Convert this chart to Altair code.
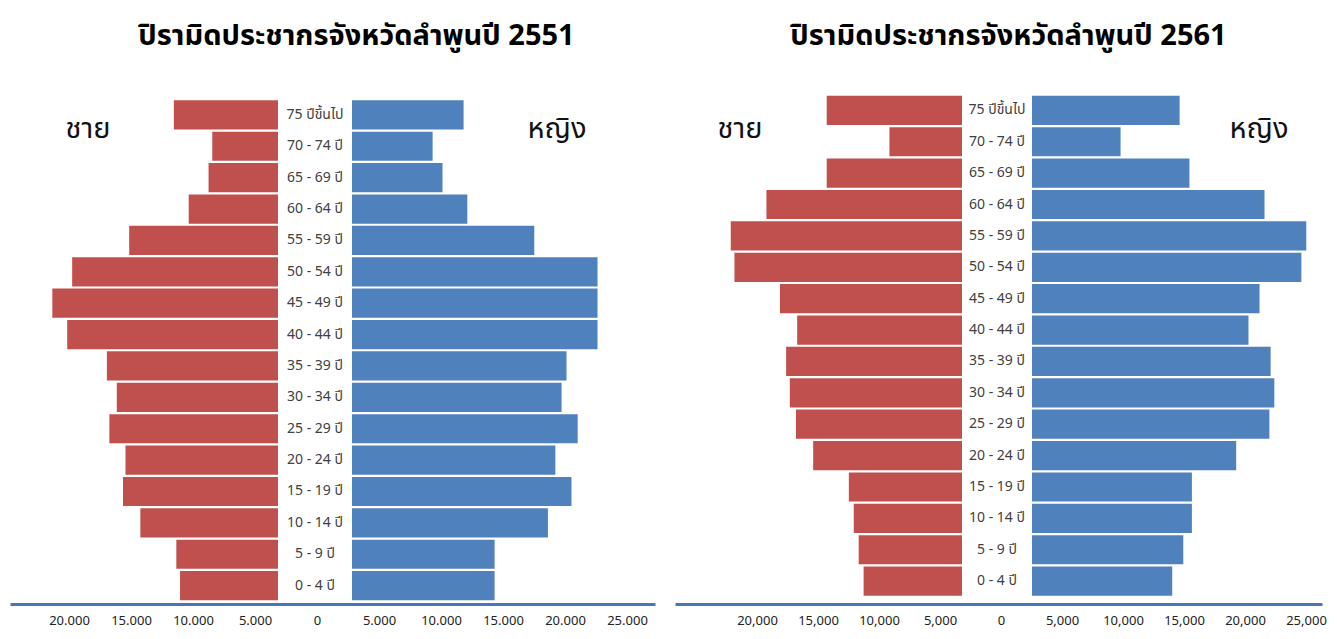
import altair as alt
import pandas as pd

# ---------------- data ----------------
age_groups = ["75 ปีขึ้นไป", "70 - 74 ปี", "65 - 69 ปี", "60 - 64 ปี", "55 - 59 ปี",
              "50 - 54 ปี", "45 - 49 ปี", "40 - 44 ปี", "35 - 39 ปี", "30 - 34 ปี",
              "25 - 29 ปี", "20 - 24 ปี", "15 - 19 ปี", "10 - 14 ปี", "5 - 9 ปี", "0 - 4 ปี"]

male_2551 = [8400, 5300, 5600, 7200, 12000, 16600, 18200, 17000,
             13800, 13000, 13600, 12300, 12500, 11100, 8200, 7900]
female_2551 = [9000, 6500, 7300, 9300, 14700, 19800, 19800, 19800,
               17300, 16900, 18200, 16400, 17700, 15800, 11500, 11500]

male_2561 = [11000, 5900, 11000, 15900, 18800, 18500, 14800, 13400,
             14300, 14000, 13500, 12100, 9200, 8800, 8400, 8000]
female_2561 = [12000, 7200, 12800, 18900, 22300, 21900, 18500, 17600,
               19400, 19700, 19300, 16600, 13000, 13000, 12300, 11400]

axis_ticks = [-20000, -15000, -10000, -5000, 0, 5000, 10000, 15000, 20000, 25000]
sex_labels = ["ชาย", "หญิง"]
titles = ["ปิรามิดประชากรจังหวัดลำพูนปี 2551", "ปิรามิดประชากรจังหวัดลำพูนปี 2561"]

# ---------------- style ----------------
RED = "#C0504D"
BLUE = "#4F81BD"
AXIS_BLUE = "#4a76b8"
FONT = "Tahoma, 'Noto Sans Thai', 'Noto Sans', sans-serif"
PLOT_H = 515


def panel(title, male, female, geom, label_expr):
    left, right = geom["left"], geom["right"]
    c, k = geom["center"], geom["k"]
    gap = geom["half_gap"] / k
    bar_dom = [(left - c) / k, (right - c) / k]
    ax_dom = [(left - geom["axis_zero"]) / geom["axis_k"], (right - geom["axis_zero"]) / geom["axis_k"]]

    df = pd.DataFrame({
        "age": age_groups * 2,
        "sex": [sex_labels[0]] * len(age_groups) + [sex_labels[1]] * len(age_groups),
        "value": male + female,
    })
    xs = alt.Scale(domain=bar_dom, nice=False, zero=False)
    ys = alt.Scale(domain=age_groups, paddingInner=0.07,
                   paddingOuter=geom["pad_outer"], align=geom["align"])

    bars = alt.Chart(df).transform_calculate(
        x0=f"datum.sex == '{sex_labels[0]}' ? -({gap} + datum.value) : {gap}",
        x1=f"datum.sex == '{sex_labels[0]}' ? -{gap} : {gap} + datum.value",
    ).mark_bar().encode(
        x=alt.X("x0:Q", scale=xs, axis=None),
        x2="x1:Q",
        y=alt.Y("age:N", sort=age_groups, scale=ys, axis=None),
        color=alt.Color("sex:N", scale=alt.Scale(domain=sex_labels, range=[RED, BLUE]), legend=None),
    )

    labels = alt.Chart(pd.DataFrame({"age": age_groups})).mark_text(
        fontSize=14, color="#404040", font=FONT, align="center", baseline="middle"
    ).encode(
        x=alt.datum(0),
        y=alt.Y("age:N", sort=age_groups),
        text="age:N",
    )

    sex_df = pd.DataFrame({"sex": sex_labels, "pos": geom["sex_pos"]})
    sex_text = alt.Chart(sex_df).mark_text(
        fontSize=29, color="#111111", font=FONT, align="center", baseline="middle"
    ).encode(
        x=alt.X("pos:Q"),
        y=alt.value(40),
        text="sex:N",
    )

    inner = alt.layer(bars, labels, sex_text)

    axis_layer = alt.Chart(pd.DataFrame({"t": axis_ticks})).mark_point(opacity=0).encode(
        x=alt.X("t:Q", scale=alt.Scale(domain=ax_dom, nice=False, zero=False),
                axis=alt.Axis(orient="bottom", values=axis_ticks, labelExpr=label_expr, title=None,
                              grid=False, ticks=False, tickSize=0,
                              domainColor=AXIS_BLUE, domainWidth=3,
                              labelFontSize=13, labelColor="#222222", labelFont=FONT,
                              labelPadding=10, labelFlush=False, labelOverlap=False)),
    )

    return alt.layer(inner, axis_layer).resolve_scale(x="independent").properties(
        width=right - left, height=PLOT_H,
        title=alt.TitleParams(title, fontSize=29, fontWeight="bold", font=FONT,
                              color="#000000", dx=geom["title_dx"], offset=38),
    )


geom1 = dict(left=10, right=655, center=315, k=0.0124, half_gap=37,
             axis_zero=317, axis_k=0.0124, pad_outer=0.24, align=0.75,
             sex_pos=[(88 - 315) / 0.0124, (557 - 315) / 0.0124], title_dx=24)
geom2 = dict(left=675, right=1322, center=997, k=0.0123, half_gap=35,
             axis_zero=1001, axis_k=0.0122, pad_outer=0.24, align=0.45,
             sex_pos=[(740 - 997) / 0.0123, (1259 - 997) / 0.0123], title_dx=10)

p1 = panel(titles[0], male_2551, female_2551, geom1,
           "replace(format(abs(datum.value), ','), ',', '.')")
p2 = panel(titles[1], male_2561, female_2561, geom2,
           "format(abs(datum.value), ',')")

chart = alt.hconcat(p1, p2, spacing=20).properties(
    padding={"left": 2, "top": 14, "right": 0, "bottom": 6}
).configure_view(stroke=None)

chart.save("out.html", embed_options={"renderer": "svg", "actions": False})
